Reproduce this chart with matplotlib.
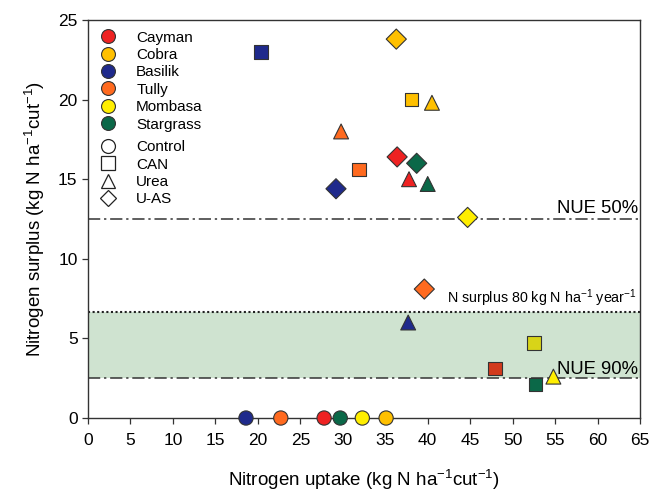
import numpy as np
import matplotlib.pyplot as plt
from matplotlib.lines import Line2D

plt.rcParams['font.family'] = ['Liberation Sans', 'DejaVu Sans']
plt.rcParams['mathtext.fontset'] = 'custom'
plt.rcParams['mathtext.rm'] = 'Liberation Sans'
plt.rcParams['mathtext.it'] = 'Liberation Sans:italic'
plt.rcParams['mathtext.bf'] = 'Liberation Sans:bold'

cultivars = ["Cayman", "Cobra", "Basilik", "Tully", "Mombasa", "Stargrass"]
colors = ["#ee2222", "#ffc000", "#1f2a8c", "#ff6a1f", "#ffee00", "#0b6848"]

# control (circles)
ctrl_x = [27.8, 35.1, 18.6, 22.7, 32.3, 29.7]
ctrl_y = [0, 0, 0, 0, 0, 0]
# CAN (squares)
can_x = [47.9, 38.1, 20.4, 31.9, 52.5, 52.7]
can_y = [3.1, 20.0, 23.0, 15.6, 4.7, 2.1]
can_colors = ["#d23a1c", "#ffc000", "#1f2a8c", "#ff6a1f", "#d8d418", "#0b6848"]
# Urea (triangles)
urea_x = [37.8, 40.5, 37.7, 29.8, 54.8, 40.0]
urea_y = [15.0, 19.8, 6.0, 18.0, 2.6, 14.7]
# U-AS (diamonds)
uas_x = [36.4, 36.3, 29.2, 39.6, 44.7, 38.7]
uas_y = [16.4, 23.8, 14.4, 8.1, 12.6, 16.0]

nue50 = 12.5
nue90 = 2.5
surplus80 = 80 / 12

fig = plt.figure(figsize=(6.54, 4.94), dpi=100)
ax = fig.add_axes([0.1346, 0.1538, 0.8440, 0.8057])

ax.axhspan(nue90, surplus80, color="#cfe3d0", zorder=0, lw=0)
ax.axhline(nue50, color="#333333", ls=(0, (8, 2.5, 1.5, 2.5)), lw=1.1, zorder=1)
ax.axhline(nue90, color="#333333", ls=(0, (8, 2.5, 1.5, 2.5)), lw=1.1, zorder=1)
ax.axhline(surplus80, color="#222222", ls=(0, (1, 1.2)), lw=1.5, zorder=1)

ec = "#333333"
ax.scatter(ctrl_x, ctrl_y, s=105, marker="o", c=colors, edgecolors=ec, linewidths=0.8, zorder=3, clip_on=False)
ax.scatter(can_x, can_y, s=95, marker="s", c=can_colors, edgecolors=ec, linewidths=0.8, zorder=3)
ax.scatter(urea_x, urea_y, s=115, marker="^", c=colors, edgecolors=ec, linewidths=0.8, zorder=3)
ax.scatter(uas_x, uas_y, s=105, marker="D", c=colors, edgecolors=ec, linewidths=0.8, zorder=3)

ax.text(64.8, nue50 + 0.15, "NUE 50%", ha="right", va="bottom", fontsize=13.3)
ax.text(64.8, nue90 + 0.0, "NUE 90%", ha="right", va="bottom", fontsize=13.3)
ax.text(64.6, surplus80 + 0.2, "N surplus 80 kg N ha$^{-1}$ year$^{-1}$",
        ha="right", va="bottom", fontsize=10.3)

ax.set_xlim(0, 65)
ax.set_ylim(0, 25)
ax.set_xticks(np.arange(0, 66, 5))
ax.set_yticks(np.arange(0, 26, 5))
ax.tick_params(direction="out", length=4, width=0.9, labelsize=12.5, color="#333333")
ax.tick_params(axis="x", pad=7)
for sp in ax.spines.values():
    sp.set_color("#333333")
    sp.set_linewidth(1.0)

ax.set_xlabel("Nitrogen uptake (kg N ha$^{-1}$cut$^{-1}$)", fontsize=13.5, labelpad=14)
ax.set_ylabel("Nitrogen surplus (kg N ha$^{-1}$cut$^{-1}$)", fontsize=13.5, labelpad=8)

h1 = [Line2D([], [], ls="", marker="o", ms=10, mfc=c, mec=ec, mew=0.8) for c in colors]
leg1 = ax.legend(h1, cultivars, loc="upper left", bbox_to_anchor=(0.0, 1.0),
                 frameon=False, fontsize=11, handletextpad=1.25, labelspacing=0.22,
                 borderaxespad=0.3, handlelength=1.2)
ax.add_artist(leg1)
treat = ["Control", "CAN", "Urea", "U-AS"]
tm = ["o", "s", "^", "D"]
h2 = [Line2D([], [], ls="", marker=m, ms=10 if m != "D" else 8.5, mfc="white", mec="#222222", mew=0.9) for m in tm]
ax.legend(h2, treat, loc="upper left", bbox_to_anchor=(0.0, 0.725),
          frameon=False, fontsize=11, handletextpad=1.25, labelspacing=0.22,
          borderaxespad=0.3, handlelength=1.2)

fig.savefig("out.png", dpi=100)
